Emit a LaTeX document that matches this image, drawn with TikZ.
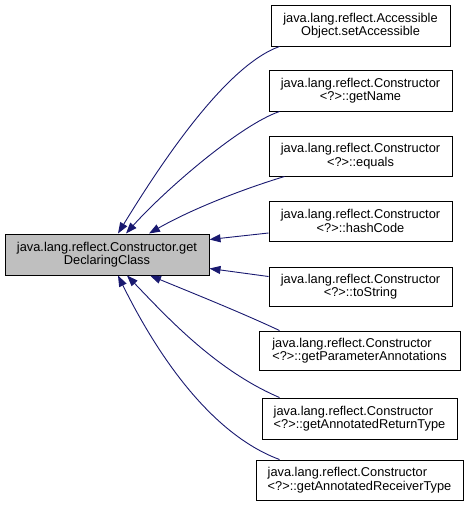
\documentclass[tikz,border=0pt]{standalone}
\usepackage{fontspec}
\setmainfont{Liberation Sans}
\usetikzlibrary{arrows.meta}
\definecolor{edgeblue}{HTML}{191970}
\definecolor{rootfill}{HTML}{BFBFBF}
\tikzset{
  fn/.style={draw=black, fill=white, line width=1pt, inner sep=0pt,
             minimum height=40pt, align=center,
             font=\fontsize{12.8}{13.6}\selectfont},
  fnleft/.style={fn, align=left},
  rootfn/.style={fn, fill=rootfill, minimum height=41pt},
  edge/.style={draw=edgeblue, line width=0.9pt,
               -{Triangle[length=11pt, width=8pt]}},
}
\begin{document}
\begin{tikzpicture}[x=1pt, y=-1pt]
    \useasboundingbox (0,0) rectangle (469,509);
    \node[rootfn, minimum width=204pt] (root) at (107,254.5) {java.lang.reflect.Constructor.get\\DeclaringClass};
    \node[fn, minimum width=179pt, minimum height=41pt] (c1) at (360.5,25.5) {java.lang.reflect.Accessible\\Object.setAccessible};
    \node[fn, minimum width=183pt, minimum height=41pt] (c2) at (360.5,90.5) {java.lang.reflect.Constructor\\\textless?\textgreater::getName};
    \node[fn, minimum width=183pt] (c3) at (360.5,156) {java.lang.reflect.Constructor\\\textless?\textgreater::equals};
    \node[fn, minimum width=183pt] (c4) at (360.5,221) {java.lang.reflect.Constructor\\\textless?\textgreater::hashCode};
    \node[fn, minimum width=183pt, minimum height=39pt] (c5) at (360.5,286.5) {java.lang.reflect.Constructor\\\textless?\textgreater::toString};
    \node[fnleft, minimum width=201pt, minimum height=39pt] (c6) at (359.5,350.5) {java.lang.reflect.Constructor\\\textless?\textgreater::getParameterAnnotations};
    \node[fnleft, minimum width=195pt, minimum height=41pt] (c7) at (359.5,418.5) {java.lang.reflect.Constructor\\\textless?\textgreater::getAnnotatedReturnType};
    \node[fnleft, minimum width=207pt] (c8) at (359.5,480) {java.lang.reflect.Constructor\\\textless?\textgreater::getAnnotatedReceiverType};
    % callers above
    \draw[edge] ([xshift=9]c1.south west) .. controls (225,66) and (160,165) .. ([xshift=11]root.north);
    \draw[edge] ([xshift=11]c2.south west) .. controls (240,125) and (165,190) .. ([xshift=19]root.north);
    \draw[edge] ([xshift=16]c3.south west) .. controls (240,190) and (190,210) .. ([xshift=42]root.north);
    % callers beside
    \draw[edge] ([yshift=-12]c4.west) -- ([yshift=15]root.east);
    \draw[edge] ([yshift=10]c5.west) -- ([yshift=-14]root.east);
    % callers below
    \draw[edge] ([xshift=21]c6.north west) .. controls (240,312) and (190,292) .. ([xshift=43]root.south);
    \draw[edge] ([xshift=18]c7.north west) .. controls (215,370) and (165,315) .. ([xshift=20]root.south);
    \draw[edge] ([xshift=24]c8.north west) .. controls (200,430) and (145,330) .. ([xshift=11]root.south);
\end{tikzpicture}
\end{document}
